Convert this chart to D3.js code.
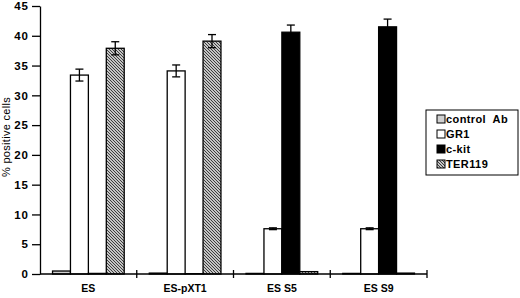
<!DOCTYPE html>
<html><head><meta charset="utf-8">
<script src="https://cdn.jsdelivr.net/npm/d3@7"></script>
<style>body{margin:0;background:#fff}svg{display:block}text{font-family:"Liberation Sans",Arial,sans-serif;font-weight:bold}</style>
</head><body><svg id="c" width="520" height="298"></svg>
<script>
const categories = ["ES","ES-pXT1","ES S5","ES S9"];
const series = ["control  Ab","GR1","c-kit","TER119"];
const controlAb = [0.5,0.15,0.1,0.1];
const gr1 = [33.4,34.1,7.6,7.6];
const ckit = [0.1,0.05,40.6,41.5];
const ter119 = [37.9,39.1,0.4,0.15];
const errControl = [0,0,0,0];
const errGr1 = [1.0,1.0,0.15,0.15];
const errCkit = [0,0,1.2,1.3];
const errTer = [1.1,1.1,0,0];
const yTicks = [0,5,10,15,20,25,30,35,40,45];

const values = [controlAb,gr1,ckit,ter119];
const errs = [errControl,errGr1,errCkit,errTer];
const fills = ["#d0d0d0","#ffffff","#000000","url(#hatch)"];

const svg = d3.select("#c");
const defs = svg.append("defs");
const pat = defs.append("pattern").attr("id","hatch").attr("patternUnits","userSpaceOnUse")
  .attr("width",3).attr("height",3);
pat.append("rect").attr("width",3).attr("height",3).attr("fill","#fff");
pat.append("path").attr("d","M-1,-1 L4,4 M-1,2 L1,4 M2,-1 L4,1").attr("stroke","#333").attr("stroke-width",1.1);

const x = d3.scaleBand().domain(categories).range([40,427]).padding(0);
const xs = d3.scaleBand().domain(series).range([0,x.bandwidth()]).paddingInner(0).paddingOuter(0.7);
const y = d3.scaleLinear().domain([0,45]).range([274,6]);

// bars
categories.forEach((c,ci)=>{
  series.forEach((s,si)=>{
    const v = values[si][ci];
    const bx = x(c)+xs(s);
    svg.append("rect").attr("x",bx).attr("y",y(v)).attr("width",xs.bandwidth()).attr("height",y(0)-y(v))
      .attr("fill",fills[si]).attr("stroke","#000").attr("stroke-width",1.3);
    const e = errs[si][ci];
    if(e>0){
      const cx = bx+xs.bandwidth()/2;
      const g = svg.append("g").attr("stroke","#000").attr("stroke-width",1.3);
      g.append("line").attr("x1",cx).attr("x2",cx).attr("y1",y(v-e)).attr("y2",y(v+e));
      [v-e,v+e].forEach(t=>g.append("line").attr("x1",cx-4).attr("x2",cx+4).attr("y1",y(t)).attr("y2",y(t)));
    }
  });
});

// y axis
const ya = svg.append("g").attr("transform","translate(40,0)")
  .call(d3.axisLeft(y).tickValues(yTicks).tickSize(8).tickSizeOuter(0).tickPadding(3));
ya.selectAll("path,line").attr("stroke","#000").attr("stroke-width",1.3);
ya.selectAll("text").attr("font-size",11.5).attr("fill","#000").attr("letter-spacing",1)
  .style("font-weight","bold").attr("font-family","Liberation Sans, Arial");

// x axis
svg.append("line").attr("x1",40).attr("x2",427).attr("y1",274).attr("y2",274).attr("stroke","#000").attr("stroke-width",1.3);
const bounds = categories.map(c=>x(c)).concat([x(categories[categories.length-1])+x.bandwidth()]);
bounds.slice(1).forEach(b=>svg.append("line").attr("x1",b).attr("x2",b).attr("y1",270).attr("y2",278).attr("stroke","#000").attr("stroke-width",1.3));
categories.forEach(c=>svg.append("text").attr("x",x(c)+x.bandwidth()/2).attr("y",292).attr("text-anchor","middle")
  .attr("font-size",10.5).text(c));

// y label
svg.append("text").attr("transform","translate(10,137) rotate(-90)").attr("text-anchor","middle")
  .attr("font-size",11).attr("letter-spacing",0.3).style("font-weight","normal").text("% positive cells");

// legend
const lg = svg.append("g");
lg.append("rect").attr("x",426).attr("y",110).attr("width",92).attr("height",65).attr("fill","#fff").attr("stroke","#000").attr("stroke-width",1);
series.forEach((s,i)=>{
  const yy = 119+i*15;
  lg.append("rect").attr("x",437).attr("y",yy-4).attr("width",8).attr("height",8).attr("fill",fills[i]).attr("stroke","#000").attr("stroke-width",1);
  lg.append("text").attr("x",446).attr("y",yy+4).attr("font-size",11).attr("letter-spacing",0.4).text(s).style("white-space","pre");
});
</script></body></html>
